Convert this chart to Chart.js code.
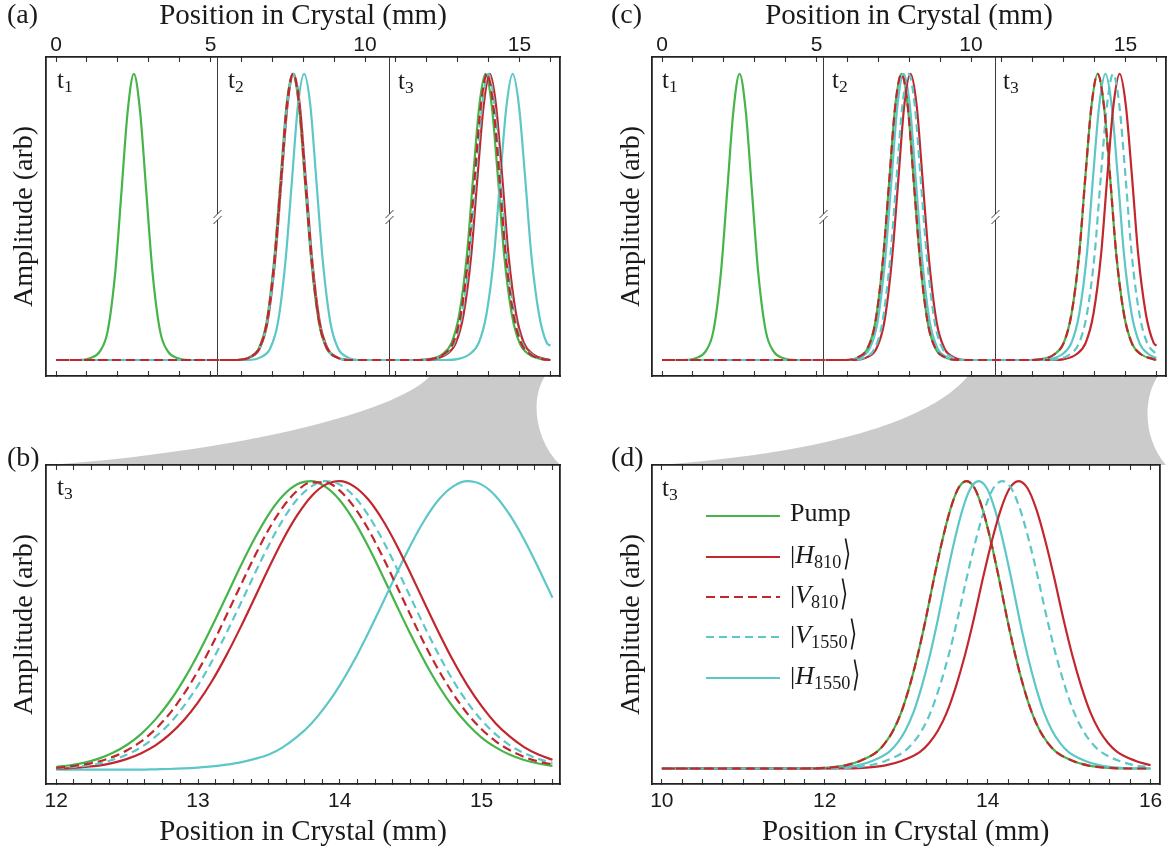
<!DOCTYPE html>
<html lang="en">
<head>
<meta charset="UTF-8">
<title>Pulse positions in crystal</title>
<script src="https://cdn.jsdelivr.net/npm/chart.js"></script>
<style>
  body { margin: 0; width: 1174px; height: 853px; overflow: hidden; position: relative; background: #fff; }
  canvas, svg, .txt { position: absolute; }
  .txt { font-family: 'Liberation Serif', 'DejaVu Serif', serif; color: #1a1a1a; line-height: 1; white-space: nowrap; }
  .plab { font-size: 28px; }
  .tl { font-size: 25px; }
  .leg { font-size: 26px; }
  sub { font-size: 70%; vertical-align: -0.25em; line-height: 0; }
  .ang { display: inline-block; font-family: 'DejaVu Sans', sans-serif; font-weight: 300; transform: scale(0.8, 1.35); transform-origin: 50% 60%; margin-left: 1px; }
</style>
</head>
<body>

<svg width="1174" height="853" style="left:0;top:0">
  <path d="M430,376 L545,376 C530,400 535,440 560,465 L50,465 C250,450 400,410 430,376 Z" fill="#cbcbcb"/>
  <path d="M968,376 L1158,376 C1142,400 1144,440 1166,465 L660,465 C860,450 940,410 968,376 Z" fill="#cbcbcb"/>
</svg>

<canvas id="pa" width="580" height="410" style="left:0;top:0"></canvas>
<canvas id="pb" width="580" height="413" style="left:0;top:440px"></canvas>
<canvas id="pc" width="574" height="410" style="left:600px;top:0"></canvas>
<canvas id="pd" width="574" height="413" style="left:600px;top:440px"></canvas>

<div class="txt plab" style="left:7px;top:0">(a)</div>
<div class="txt plab" style="left:7px;top:443px">(b)</div>
<div class="txt plab" style="left:611px;top:0">(c)</div>
<div class="txt plab" style="left:611px;top:443px">(d)</div>

<div class="txt tl" style="left:57px;top:67px">t<sub>1</sub></div>
<div class="txt tl" style="left:228px;top:67px">t<sub>2</sub></div>
<div class="txt tl" style="left:398px;top:68px">t<sub>3</sub></div>
<div class="txt tl" style="left:57px;top:474px">t<sub>3</sub></div>
<div class="txt tl" style="left:662px;top:67px">t<sub>1</sub></div>
<div class="txt tl" style="left:832px;top:67px">t<sub>2</sub></div>
<div class="txt tl" style="left:1003px;top:68px">t<sub>3</sub></div>
<div class="txt tl" style="left:662px;top:475px">t<sub>3</sub></div>

<svg width="80" height="200" style="left:703px;top:500px">
  <line x1="3" y1="16" x2="77" y2="16" stroke="#45b549" stroke-width="2.2"/>
  <line x1="3" y1="57" x2="77" y2="57" stroke="#c1272d" stroke-width="2.2"/>
  <line x1="3" y1="97" x2="77" y2="97" stroke="#c1272d" stroke-width="2.2" stroke-dasharray="9 5"/>
  <line x1="3" y1="137" x2="77" y2="137" stroke="#5cc7c6" stroke-width="2.2" stroke-dasharray="8 5"/>
  <line x1="3" y1="178" x2="77" y2="178" stroke="#5cc7c6" stroke-width="2.2"/>
</svg>
<div class="txt leg" style="left:790px;top:500px">Pump</div>
<div class="txt leg" style="left:790px;top:541px">|<i>H</i><sub>810</sub><span class="ang">⟩</span></div>
<div class="txt leg" style="left:790px;top:581px">|<i>V</i><sub>810</sub><span class="ang">⟩</span></div>
<div class="txt leg" style="left:790px;top:621px">|<i>V</i><sub>1550</sub><span class="ang">⟩</span></div>
<div class="txt leg" style="left:790px;top:662px">|<i>H</i><sub>1550</sub><span class="ang">⟩</span></div>

<script>
// ---- ticks ----
const ticksTop = [0,1,2,3,4,5,6,7,8,9,10,11,12,13,14,15,16];
const labelsTop = [0,5,10,15];
const ticksB = [12,12.125,12.25,12.375,12.5,12.625,12.75,12.875,13,13.125,13.25,13.375,13.5,13.625,13.75,13.875,
                14,14.125,14.25,14.375,14.5,14.625,14.75,14.875,15,15.125,15.25,15.375,15.5];
const labelsB = [12,13,14,15];
const ticksD = [10,10.25,10.5,10.75,11,11.25,11.5,11.75,12,12.25,12.5,12.75,13,13.25,13.5,13.75,
                14,14.25,14.5,14.75,15,15.25,15.5,15.75,16];
const labelsD = [10,12,14,16];
const breaksA = [5.22, 10.78];
const breaksC = [5.21, 10.77];

// ---- panel (a): [position mm, amplitude] ----
const pumpA = [[0,0],[0.72,0],[1.12,0.007],[1.42,0.03],[1.67,0.10],[1.92,0.31],[2.12,0.59],[2.32,0.87],[2.52,1],[2.72,0.87],[2.92,0.59],[3.12,0.31],[3.37,0.10],[3.62,0.03],[3.92,0.007],[4.32,0],
  [5.86,0],[6.26,0.01],[6.56,0.04],[6.81,0.13],[7.06,0.35],[7.26,0.62],[7.46,0.89],[7.66,1],[7.86,0.89],[8.06,0.62],[8.26,0.35],[8.51,0.13],[8.76,0.04],[9.06,0.01],[9.46,0],
  [11.7,0],[12.10,0.003],[12.50,0.02],[12.80,0.06],[13.05,0.16],[13.30,0.37],[13.50,0.64],[13.70,0.89],[13.90,1],[14.10,0.89],[14.30,0.64],[14.50,0.37],[14.75,0.16],[15.00,0.06],[15.30,0.02],[15.70,0.003],[16,0]];
const h810A = [[0,0],[5.89,0],[6.29,0.01],[6.59,0.04],[6.84,0.13],[7.09,0.35],[7.29,0.62],[7.49,0.89],[7.69,1],[7.89,0.89],[8.09,0.62],[8.29,0.35],[8.54,0.13],[8.79,0.04],[9.09,0.01],[9.49,0],
  [11.84,0],[12.24,0.003],[12.64,0.02],[12.94,0.06],[13.19,0.16],[13.44,0.37],[13.64,0.64],[13.84,0.89],[14.04,1],[14.24,0.89],[14.44,0.64],[14.64,0.37],[14.89,0.16],[15.14,0.06],[15.44,0.02],[15.84,0.003],[16,0]];
const v810A = [[0,0],[5.87,0],[6.27,0.01],[6.57,0.04],[6.82,0.13],[7.07,0.35],[7.27,0.62],[7.47,0.89],[7.67,1],[7.87,0.89],[8.07,0.62],[8.27,0.35],[8.52,0.13],[8.77,0.04],[9.07,0.01],[9.47,0],
  [11.75,0],[12.15,0.003],[12.55,0.02],[12.85,0.06],[13.10,0.16],[13.35,0.37],[13.55,0.64],[13.75,0.89],[13.95,1],[14.15,0.89],[14.35,0.64],[14.55,0.37],[14.80,0.16],[15.05,0.06],[15.35,0.02],[15.75,0.003],[16,0]];
const v1550A = [[0,0],[5.88,0],[6.28,0.01],[6.58,0.04],[6.83,0.13],[7.08,0.35],[7.28,0.62],[7.48,0.89],[7.68,1],[7.88,0.89],[8.08,0.62],[8.28,0.35],[8.53,0.13],[8.78,0.04],[9.08,0.01],[9.48,0],
  [11.79,0],[12.19,0.003],[12.59,0.02],[12.89,0.06],[13.14,0.16],[13.39,0.37],[13.59,0.64],[13.79,0.89],[13.99,1],[14.19,0.89],[14.39,0.64],[14.59,0.37],[14.84,0.16],[15.09,0.06],[15.39,0.02],[15.79,0.003],[16,0]];
const h1550A = [[0,0],[6.23,0],[6.63,0.01],[6.93,0.04],[7.18,0.13],[7.43,0.35],[7.63,0.62],[7.83,0.89],[8.03,1],[8.23,0.89],[8.43,0.62],[8.63,0.35],[8.88,0.13],[9.13,0.04],[9.43,0.01],[9.83,0],
  [12.6,0],[12.98,0.003],[13.38,0.02],[13.68,0.06],[13.93,0.16],[14.18,0.37],[14.38,0.64],[14.58,0.89],[14.78,1],[14.98,0.89],[15.18,0.64],[15.38,0.37],[15.63,0.16],[15.88,0.06],[16,0.05]];

// ---- panel (c) ----
const pumpC = [[0,0],[0.71,0],[1.11,0.007],[1.41,0.03],[1.66,0.10],[1.91,0.31],[2.11,0.59],[2.31,0.87],[2.51,1],[2.71,0.87],[2.91,0.59],[3.11,0.31],[3.36,0.10],[3.61,0.03],[3.91,0.007],[4.31,0],
  [5.95,0],[6.35,0.01],[6.65,0.04],[6.90,0.13],[7.15,0.35],[7.35,0.62],[7.55,0.89],[7.75,1],[7.95,0.89],[8.15,0.62],[8.35,0.35],[8.60,0.13],[8.85,0.04],[9.15,0.01],[9.55,0],
  [11.9,0],[12.30,0.003],[12.70,0.02],[13.00,0.06],[13.25,0.16],[13.50,0.37],[13.70,0.64],[13.90,0.89],[14.10,1],[14.30,0.89],[14.50,0.64],[14.70,0.37],[14.95,0.16],[15.20,0.06],[15.50,0.02],[15.90,0.003],[16,0]];
const v810C = [[0,0],[5.95,0],[6.35,0.01],[6.65,0.04],[6.90,0.13],[7.15,0.35],[7.35,0.62],[7.55,0.89],[7.75,1],[7.95,0.89],[8.15,0.62],[8.35,0.35],[8.60,0.13],[8.85,0.04],[9.15,0.01],[9.55,0],
  [11.9,0],[12.30,0.003],[12.70,0.02],[13.00,0.06],[13.25,0.16],[13.50,0.37],[13.70,0.64],[13.90,0.89],[14.10,1],[14.30,0.89],[14.50,0.64],[14.70,0.37],[14.95,0.16],[15.20,0.06],[15.50,0.02],[15.90,0.003],[16,0]];
const h1550C = [[0,0],[6.02,0],[6.42,0.01],[6.72,0.04],[6.97,0.13],[7.22,0.35],[7.42,0.62],[7.62,0.89],[7.82,1],[8.02,0.89],[8.22,0.62],[8.42,0.35],[8.67,0.13],[8.92,0.04],[9.22,0.01],[9.62,0],
  [12.15,0],[12.55,0.003],[12.95,0.02],[13.25,0.06],[13.50,0.16],[13.75,0.37],[13.95,0.64],[14.15,0.89],[14.35,1],[14.55,0.89],[14.75,0.64],[14.95,0.37],[15.20,0.16],[15.45,0.06],[15.75,0.02],[16,0.007]];
const v1550C = [[0,0],[6.18,0],[6.58,0.01],[6.88,0.04],[7.13,0.13],[7.38,0.35],[7.58,0.62],[7.78,0.89],[7.98,1],[8.18,0.89],[8.38,0.62],[8.58,0.35],[8.83,0.13],[9.08,0.04],[9.38,0.01],[9.78,0],
  [12.4,0],[12.80,0.003],[13.20,0.02],[13.50,0.06],[13.75,0.16],[14.00,0.37],[14.20,0.64],[14.40,0.89],[14.60,1],[14.80,0.89],[15.00,0.64],[15.20,0.37],[15.45,0.16],[15.70,0.06],[16,0.02]];
const h810C = [[0,0],[6.24,0],[6.64,0.01],[6.94,0.04],[7.19,0.13],[7.44,0.35],[7.64,0.62],[7.84,0.89],[8.04,1],[8.24,0.89],[8.44,0.62],[8.64,0.35],[8.89,0.13],[9.14,0.04],[9.44,0.01],[9.84,0],
  [12.6,0],[13.01,0.003],[13.41,0.02],[13.71,0.06],[13.96,0.16],[14.21,0.37],[14.41,0.64],[14.61,0.89],[14.81,1],[15.01,0.89],[15.21,0.64],[15.41,0.37],[15.66,0.16],[15.91,0.06],[16,0.05]];

// ---- panel (b): shared positions ----
const xB = [12.0,12.1,12.2,12.3,12.4,12.5,12.6,12.7,12.8,12.9,13.0,13.1,13.2,13.3,13.4,13.5,13.6,13.7,
            13.8,13.9,14.0,14.1,14.2,14.3,14.4,14.5,14.6,14.7,14.8,14.9,15.0,15.1,15.2,15.3,15.4,15.5];
const pumpB = [0.009,0.015,0.024,0.038,0.058,0.086,0.124,0.174,0.236,0.312,0.400,0.498,0.601,0.705,0.802,0.886,0.950,0.989,
               1.000,0.980,0.934,0.863,0.774,0.674,0.570,0.468,0.373,0.288,0.216,0.158,0.111,0.077,0.051,0.033,0.021,0.013];
const v810B = [0.006,0.011,0.018,0.028,0.044,0.067,0.098,0.140,0.194,0.262,0.342,0.433,0.534,0.638,0.740,0.834,0.911,0.967,
               0.996,0.996,0.967,0.911,0.834,0.740,0.638,0.534,0.433,0.342,0.262,0.194,0.140,0.098,0.067,0.044,0.028,0.018];
const v1550B = [0.004,0.008,0.013,0.021,0.034,0.052,0.078,0.114,0.160,0.220,0.292,0.377,0.473,0.575,0.679,0.779,0.867,0.937,
                0.982,1.000,0.988,0.948,0.882,0.798,0.700,0.596,0.493,0.396,0.308,0.233,0.171,0.122,0.084,0.057,0.037,0.023];
const h810B = [0.003,0.005,0.009,0.014,0.023,0.037,0.057,0.084,0.122,0.171,0.233,0.308,0.396,0.493,0.596,0.700,0.798,0.882,
               0.948,0.988,1.000,0.982,0.937,0.867,0.779,0.679,0.575,0.473,0.377,0.292,0.220,0.160,0.114,0.078,0.052,0.034];
const h1550B = [0,0,0,0,0,0,0,0.001,0.002,0.004,0.007,0.011,0.017,0.025,0.037,0.052,0.078,0.114,
                0.160,0.220,0.292,0.377,0.473,0.575,0.679,0.779,0.867,0.937,0.982,1.000,0.988,0.948,0.882,0.798,0.700,0.596];

// ---- panel (d) ----
const pumpD = [[10,0],[11.74,0],[12.04,0.003],[12.24,0.010],[12.44,0.027],[12.64,0.058],[12.74,0.088],[12.84,0.132],[12.94,0.196],[13.04,0.285],[13.14,0.393],[13.24,0.520],[13.34,0.660],[13.44,0.790],[13.54,0.900],[13.64,0.975],[13.74,1],
  [13.84,0.975],[13.94,0.900],[14.04,0.790],[14.14,0.660],[14.24,0.520],[14.34,0.393],[14.44,0.285],[14.54,0.196],[14.64,0.132],[14.74,0.088],[14.84,0.058],[15.04,0.027],[15.24,0.010],[15.44,0.003],[15.74,0],[16,0]];
const v810D = [[10,0],[11.74,0],[12.04,0.003],[12.24,0.010],[12.44,0.027],[12.64,0.058],[12.74,0.088],[12.84,0.132],[12.94,0.196],[13.04,0.285],[13.14,0.393],[13.24,0.520],[13.34,0.660],[13.44,0.790],[13.54,0.900],[13.64,0.975],[13.74,1],
  [13.84,0.975],[13.94,0.900],[14.04,0.790],[14.14,0.660],[14.24,0.520],[14.34,0.393],[14.44,0.285],[14.54,0.196],[14.64,0.132],[14.74,0.088],[14.84,0.058],[15.04,0.027],[15.24,0.010],[15.44,0.003],[15.74,0],[16,0]];
const h1550D = [[10,0],[11.89,0],[12.19,0.003],[12.39,0.010],[12.59,0.027],[12.79,0.058],[12.89,0.088],[12.99,0.132],[13.09,0.196],[13.19,0.285],[13.29,0.393],[13.39,0.520],[13.49,0.660],[13.59,0.790],[13.69,0.900],[13.79,0.975],[13.89,1],
  [13.99,0.975],[14.09,0.900],[14.19,0.790],[14.29,0.660],[14.39,0.520],[14.49,0.393],[14.59,0.285],[14.69,0.196],[14.79,0.132],[14.89,0.088],[14.99,0.058],[15.19,0.027],[15.39,0.010],[15.59,0.003],[15.89,0],[16,0]];
const v1550D = [[10,0],[11.98,0],[12.31,0.003],[12.53,0.010],[12.75,0.027],[12.97,0.058],[13.08,0.088],[13.19,0.132],[13.30,0.196],[13.41,0.285],[13.52,0.393],[13.63,0.520],[13.74,0.660],[13.85,0.790],[13.96,0.900],[14.07,0.975],[14.18,1],
  [14.29,0.975],[14.40,0.900],[14.51,0.790],[14.62,0.660],[14.73,0.520],[14.84,0.393],[14.95,0.285],[15.06,0.196],[15.17,0.132],[15.28,0.088],[15.39,0.058],[15.61,0.027],[15.83,0.010],[16,0.005]];
const h810D = [[10,0],[12.18,0],[12.51,0.003],[12.73,0.010],[12.95,0.027],[13.17,0.058],[13.28,0.088],[13.39,0.132],[13.50,0.196],[13.61,0.285],[13.72,0.393],[13.83,0.520],[13.94,0.660],[14.05,0.790],[14.16,0.900],[14.27,0.975],[14.38,1],
  [14.49,0.975],[14.60,0.900],[14.71,0.790],[14.82,0.660],[14.93,0.520],[15.04,0.393],[15.15,0.285],[15.26,0.196],[15.37,0.132],[15.48,0.088],[15.59,0.058],[15.81,0.027],[16,0.011]];

// ---- look ----
const look = {
  pump:  {color: '#45b549', dash: []},
  h810:  {color: '#c1272d', dash: []},
  v810:  {color: '#c1272d', dash: [9, 5]},
  v1550: {color: '#5cc7c6', dash: [8, 5]},
  h1550: {color: '#5cc7c6', dash: []}
};
const drawOrder = ['v810', 'v1550', 'h810', 'h1550', 'pump']; // first one ends up on top
const serif = 'Liberation Serif';
const tickFont = {family: 'Liberation Sans', size: 21, lineHeight: 1};
const ink = '#1a1a1a';

const pairs = arr => arr.map(([x, y]) => ({x, y}));
const onGrid = (xs, ys) => xs.map((x, i) => ({x, y: ys[i]}));

// separators between the three snapshots, with the "//" break marks
const breakMarks = {
  id: 'breakMarks',
  beforeDatasetsDraw(chart, args, opts) {
    if (!opts.at || !opts.at.length) return;
    const {ctx, chartArea: a} = chart;
    const sx = chart.scales.x, sy = chart.scales.y;
    const py = Math.round(sy.getPixelForValue(opts.y));
    ctx.save();
    ctx.strokeStyle = '#3a3a3a';
    ctx.lineWidth = 1;
    opts.at.forEach(v => {
      const px = Math.round(sx.getPixelForValue(v)) + 0.5;
      ctx.beginPath();
      ctx.moveTo(px, a.top); ctx.lineTo(px, py - 3);
      ctx.moveTo(px, py + 3); ctx.lineTo(px, a.bottom);
      ctx.stroke();
      ctx.beginPath();
      ctx.moveTo(px - 4, py + 1); ctx.lineTo(px + 4, py - 7);
      ctx.moveTo(px - 4, py + 7); ctx.lineTo(px + 4, py - 1);
      ctx.stroke();
    });
    ctx.restore();
  }
};

function xAxis(o) {
  return {
    type: 'linear', position: o.pos, min: o.min, max: o.max,
    afterBuildTicks: s => { s.ticks = o.ticks.map(v => ({value: v})); },
    afterFit: s => { s.height = o.size; },
    ticks: {
      display: !!o.labels, autoSkip: false, maxRotation: 0, minRotation: 0,
      padding: o.pad || 0, font: tickFont, color: ink,
      callback: v => (o.labels && o.labels.includes(v)) ? String(v) : ''
    },
    grid: {display: true, drawOnChartArea: false, drawTicks: true, tickLength: -5, tickWidth: 1.1, tickColor: '#333'},
    border: {display: true, width: 1.8, color: '#222'},
    title: o.title
      ? {display: true, text: o.title, color: ink, font: {family: serif, size: 29, lineHeight: 1}, padding: o.titlePad}
      : {display: false}
  };
}

function yAxis(o) {
  return {
    type: 'linear', position: o.pos, min: o.min, max: o.max,
    afterFit: s => { s.width = o.size; },
    ticks: {display: false},
    grid: {display: false},
    border: {display: true, width: 1.8, color: '#222'},
    title: o.title
      ? {display: true, text: o.title, color: ink, font: {family: serif, size: 28, lineHeight: 1}, padding: {top: o.titlePad, bottom: 0}}
      : {display: false}
  };
}

function panel(id, p) {
  const datasets = drawOrder.map(k => ({
    label: k,
    data: p.data[k],
    borderColor: look[k].color,
    borderDash: look[k].dash,
    borderWidth: 2.2,
    pointRadius: 0,
    fill: false,
    cubicInterpolationMode: 'monotone'
  }));
  return new Chart(document.getElementById(id), {
    type: 'line',
    data: {datasets},
    options: {
      responsive: false, animation: false, devicePixelRatio: 1,
      layout: {padding: 0},
      plugins: {legend: {display: false}, tooltip: {enabled: false}, breakMarks: {at: p.breaks || [], y: 0.5}},
      scales: p.scales
    },
    plugins: [breakMarks]
  });
}

// (a)
panel('pa', {
  data: {pump: pairs(pumpA), h810: pairs(h810A), v810: pairs(v810A), v1550: pairs(v1550A), h1550: pairs(h1550A)},
  breaks: breaksA,
  scales: {
    x:  xAxis({pos: 'top', min: -0.324, max: 16.31, size: 57, ticks: ticksTop, labels: labelsTop, pad: 6,
               title: 'Position in Crystal (mm)', titlePad: {top: 2, bottom: 0}}),
    x2: xAxis({pos: 'bottom', min: -0.324, max: 16.31, size: 34, ticks: ticksTop}),
    y:  yAxis({pos: 'left', min: -0.056, max: 1.059, size: 46, title: 'Amplitude (arb)', titlePad: 11}),
    y2: yAxis({pos: 'right', min: -0.056, max: 1.059, size: 20})
  }
});

// (b)
panel('pb', {
  data: {pump: onGrid(xB, pumpB), h810: onGrid(xB, h810B), v810: onGrid(xB, v810B), v1550: onGrid(xB, v1550B), h1550: onGrid(xB, h1550B)},
  scales: {
    x:  xAxis({pos: 'bottom', min: 11.928, max: 15.553, size: 69, ticks: ticksB, labels: labelsB, pad: 11.5,
               title: 'Position in Crystal (mm)', titlePad: {top: 0, bottom: 6}}),
    x2: xAxis({pos: 'top', min: 11.928, max: 15.553, size: 25, ticks: ticksB}),
    y:  yAxis({pos: 'left', min: -0.05, max: 1.056, size: 46, title: 'Amplitude (arb)', titlePad: 11}),
    y2: yAxis({pos: 'right', min: -0.05, max: 1.056, size: 20})
  }
});

// (c)
panel('pc', {
  data: {pump: pairs(pumpC), h810: pairs(h810C), v810: pairs(v810C), v1550: pairs(v1550C), h1550: pairs(h1550C)},
  breaks: breaksC,
  scales: {
    x:  xAxis({pos: 'top', min: -0.324, max: 16.31, size: 57, ticks: ticksTop, labels: labelsTop, pad: 6,
               title: 'Position in Crystal (mm)', titlePad: {top: 2, bottom: 0}}),
    x2: xAxis({pos: 'bottom', min: -0.324, max: 16.31, size: 34, ticks: ticksTop}),
    y:  yAxis({pos: 'left', min: -0.056, max: 1.059, size: 52, title: 'Amplitude (arb)', titlePad: 17.5}),
    y2: yAxis({pos: 'right', min: -0.056, max: 1.059, size: 8})
  }
});

// (d)
panel('pd', {
  data: {pump: pairs(pumpD), h810: pairs(h810D), v810: pairs(v810D), v1550: pairs(v1550D), h1550: pairs(h1550D)},
  scales: {
    x:  xAxis({pos: 'bottom', min: 9.879, max: 16.109, size: 69, ticks: ticksD, labels: labelsD, pad: 11.5,
               title: 'Position in Crystal (mm)', titlePad: {top: 0, bottom: 6}}),
    x2: xAxis({pos: 'top', min: 9.879, max: 16.109, size: 25, ticks: ticksD}),
    y:  yAxis({pos: 'left', min: -0.054, max: 1.056, size: 52, title: 'Amplitude (arb)', titlePad: 17.5}),
    y2: yAxis({pos: 'right', min: -0.054, max: 1.056, size: 8})
  }
});
</script>
</body>
</html>
